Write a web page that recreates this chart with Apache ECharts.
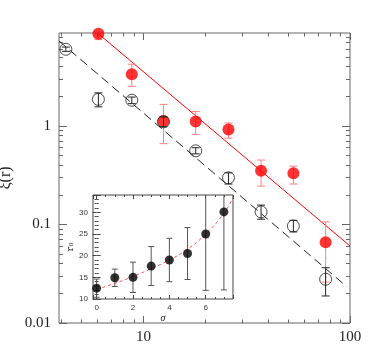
<!DOCTYPE html>
<html>
<head>
<meta charset="utf-8">
<script src="https://cdn.jsdelivr.net/npm/echarts@6/dist/echarts.min.js"></script>
<style>
  html, body { margin: 0; padding: 0; background: #fff; }
  #chart { width: 382px; height: 348px; }
</style>
</head>
<body>
<div id="chart"></div>
<script>
// main panel: xi(r) for two samples
var redR = [6.05, 8.78, 12.5, 17.9, 25.8, 37.1, 53.2, 76.2]
var redXi = [8.6, 3.34, 1.12, 1.11, 0.92, 0.35, 0.33, 0.066]
var redLo = [7.5, 2.52, 0.66, 0.82, 0.75, 0.245, 0.257, 0.026]
var redHi = [10.0, 4.22, 1.65, 1.40, 1.07, 0.45, 0.39, 0.106]

var blkR = [4.21, 6.05, 8.78, 12.5, 17.9, 25.8, 37.1, 53.2, 76.2]
var blkXi = [5.98, 1.86, 1.82, 1.10, 0.558, 0.297, 0.134, 0.0964, 0.0278]
var blkLo = [5.7, 1.56, 1.68, 0.98, 0.52, 0.257, 0.113, 0.084, 0.0188]
var blkHi = [6.3, 2.16, 1.96, 1.23, 0.60, 0.334, 0.157, 0.11, 0.0364]

// power-law fits (end points)
var redFitR = [6.05, 100]
var redFitXi = [8.6, 0.0604]
var blkFitR = [3.9, 96.4]
var blkFitXi = [7.26, 0.0234]

// tick values
var xMajor = [10, 100]
var xMinor = [4, 5, 6, 7, 8, 9, 20, 30, 40, 50, 60, 70, 80, 90]
var yMajor = [0.01, 0.1, 1]
var yMinor = [0.02, 0.03, 0.04, 0.05, 0.06, 0.07, 0.08, 0.09,
  0.2, 0.3, 0.4, 0.5, 0.6, 0.7, 0.8, 0.9, 2, 3, 4, 5, 6, 7, 8]

// inset: r0 vs sigma
var sigma = [0, 1, 2, 3, 4, 5, 6, 7]
var r0 = [12.5, 14.9, 15.0, 17.6, 19.0, 20.5, 25.0, 30.1]
var r0Err = [2.1, 2.0, 3.5, 4.5, 5.0, 6.0, 13.0, 18.0]
var fitSigma = [0, 1, 2, 3, 4, 5, 6, 7, 7.5]
var fitR0 = [12.2, 13.6, 15.2, 17.0, 19.0, 21.5, 25.0, 29.8, 33.5]

var serif = 'Liberation Serif'
var zip = function (a, b) { return a.map(function (v, i) { return [v, b[i]] }) }
var bars = function (x, lo, hi) { return x.map(function (v, i) { return [v, lo[i], hi[i]] }) }

function errorBars(color, capW) {
  return function (params, api) {
    var x = api.value(0)
    var pLo = api.coord([x, api.value(1)])
    var pHi = api.coord([x, api.value(2)])
    var hw = capW / 2
    var st = { stroke: color, lineWidth: 1, fill: null }
    return {
      type: 'group',
      children: [
        { type: 'line', shape: { x1: pLo[0], y1: pLo[1], x2: pHi[0], y2: pHi[1] }, style: st },
        { type: 'line', shape: { x1: pLo[0] - hw, y1: pLo[1], x2: pLo[0] + hw, y2: pLo[1] }, style: st },
        { type: 'line', shape: { x1: pHi[0] - hw, y1: pHi[1], x2: pHi[0] + hw, y2: pHi[1] }, style: st }
      ]
    }
  }
}

// main axes: major / minor ticks on all four sides
function mainX(position, ticks, len, labels) {
  return {
    type: 'log', gridIndex: 0, position: position, min: 3.9, max: 100,
    axisLine: { show: false }, splitLine: { show: false },
    axisTick: { inside: true, length: len, customValues: ticks, lineStyle: { color: '#666' } },
    axisLabel: labels ? {
      customValues: xMajor, margin: 7, fontFamily: serif, fontSize: 15, color: '#222',
      formatter: function (v) { return String(v) }
    } : { show: false },
    name: labels ? 'r (h\u207B\u00B9 Mpc)' : '', nameLocation: 'middle', nameGap: 17,
    nameTextStyle: { fontFamily: serif, fontSize: 16, color: '#222' }
  }
}
function mainY(position, ticks, len, labels) {
  return {
    type: 'log', gridIndex: 0, position: position, min: 0.01, max: 8.75,
    axisLine: { show: false }, splitLine: { show: false },
    axisTick: { inside: true, length: len, customValues: ticks, lineStyle: { color: '#666' } },
    axisLabel: labels ? {
      customValues: yMajor, margin: 8, fontFamily: serif, fontSize: 15, color: '#222',
      formatter: function (v) { return String(v) }
    } : { show: false },
    name: labels ? '\u03BE(r)' : '', nameLocation: 'middle', nameGap: 40,
    nameTextStyle: { fontFamily: serif, fontSize: 16, color: '#222' }
  }
}
function insetX(position, labels) {
  return {
    type: 'value', gridIndex: 1, position: position, min: -0.2, max: 7.5, z: 6,
    axisLine: { show: false }, splitLine: { show: false },
    axisTick: { inside: true, length: 4, lineStyle: { color: '#444' } },
    minorTick: { show: true, splitNumber: 4, length: 2, lineStyle: { color: '#444' } },
    axisLabel: labels ? {
      margin: 5, fontFamily: 'Liberation Sans', fontSize: 8, color: '#333',
      showMinLabel: false, showMaxLabel: false
    } : { show: false },
    name: labels ? '\u03C3' : '', nameLocation: 'middle', nameGap: 14,
    nameTextStyle: { fontFamily: serif, fontStyle: 'italic', fontSize: 10, color: '#222' }
  }
}
function insetY(position, labels) {
  return {
    type: 'value', gridIndex: 1, position: position, min: 10, max: 34, z: 6,
    axisLine: { show: false }, splitLine: { show: false },
    axisTick: { inside: true, length: 4, lineStyle: { color: '#444' } },
    minorTick: { show: true, splitNumber: 5, length: 2, lineStyle: { color: '#444' } },
    axisLabel: labels ? {
      margin: 5, fontFamily: 'Liberation Sans', fontSize: 8, color: '#333',
      showMaxLabel: false
    } : { show: false },
    name: labels ? 'r\u2080' : '', nameLocation: 'middle', nameGap: 18,
    nameTextStyle: { fontFamily: 'DejaVu Serif', fontSize: 10, color: '#222' }
  }
}

var chart = echarts.init(document.getElementById('chart'), null, { renderer: 'canvas' })

var option = {
  animation: false,
  backgroundColor: '#fff',
  grid: [
    { left: 59, right: 32, top: 33, bottom: 25, show: true, borderColor: '#666', borderWidth: 1,
      z: 0, outerBoundsMode: 'none', containLabel: false },
    { left: 93, right: 149, top: 195, bottom: 49, show: true, backgroundColor: '#fff',
      borderColor: '#444', borderWidth: 1, z: 5, outerBoundsMode: 'none', containLabel: false }
  ],
  xAxis: [
    mainX('bottom', xMajor, 7, true),
    mainX('bottom', xMinor, 3.5, false),
    mainX('top', xMajor, 7, false),
    mainX('top', xMinor, 3.5, false),
    insetX('bottom', true),
    insetX('top', false)
  ],
  yAxis: [
    mainY('left', yMajor, 8, true),
    mainY('left', yMinor, 4, false),
    mainY('right', yMajor, 8, false),
    mainY('right', yMinor, 4, false),
    insetY('left', true),
    insetY('right', false)
  ],
  series: [
    {
      type: 'line', data: zip(redFitR, redFitXi), symbol: 'none',
      lineStyle: { color: '#ff0000', width: 1 }, z: 1
    },
    {
      type: 'line', data: zip(blkFitR, blkFitXi), symbol: 'none',
      lineStyle: { color: '#222', width: 1, type: [9, 5] }, z: 1
    },
    {
      type: 'custom', data: bars(redR, redLo, redHi), clip: true,
      renderItem: errorBars('#ff8080', 8), encode: { x: 0, y: [1, 2] }, z: 2
    },
    {
      type: 'scatter', data: zip(redR, redXi), symbol: 'circle', symbolSize: 12,
      itemStyle: { color: '#ff0000' }, z: 2
    },
    {
      type: 'custom', data: bars(blkR, blkLo, blkHi), clip: true,
      renderItem: errorBars('#222', 8), encode: { x: 0, y: [1, 2] }, z: 3
    },
    {
      type: 'scatter', data: zip(blkR, blkXi), symbol: 'circle', symbolSize: 12,
      itemStyle: { color: 'transparent', borderColor: '#222', borderWidth: 1 }, z: 3
    },
    // inset
    {
      type: 'line', xAxisIndex: 4, yAxisIndex: 4, data: zip(fitSigma, fitR0),
      symbol: 'none', smooth: true,
      lineStyle: { color: '#ff5050', width: 1, type: [3, 3] }, z: 7
    },
    {
      type: 'custom', xAxisIndex: 4, yAxisIndex: 4, clip: true,
      data: bars(sigma, r0.map(function (v, i) { return v - r0Err[i] }), r0.map(function (v, i) { return v + r0Err[i] })),
      renderItem: errorBars('#555', 6), encode: { x: 0, y: [1, 2] }, z: 7
    },
    {
      type: 'scatter', xAxisIndex: 4, yAxisIndex: 4, data: zip(sigma, r0),
      symbol: 'circle', symbolSize: 9, itemStyle: { color: '#000' }, z: 8
    }
  ]
}

chart.setOption(option)
</script>
</body>
</html>
